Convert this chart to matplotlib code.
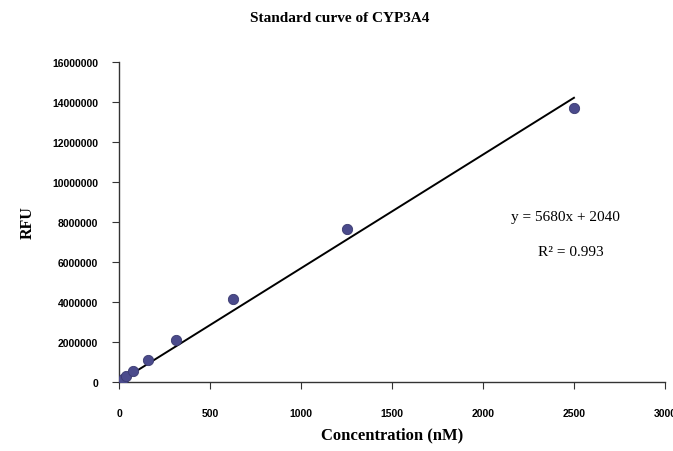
import matplotlib
matplotlib.use("Agg")
import matplotlib.pyplot as plt
import numpy as np

# standard curve readings (two-fold dilution series)
conc_nm = [0, 9.8, 19.5, 39, 78, 156.25, 312.5, 625, 1250, 2500]
rfu = [0, 50000, 120000, 300000, 550000, 1100000, 2100000, 4150000, 7650000, 13700000]
slope = 5680
intercept = 2040
r_squared = 0.993
x_ticks = [0, 500, 1000, 1500, 2000, 2500, 3000]
y_ticks = [0, 2000000, 4000000, 6000000, 8000000, 10000000, 12000000, 14000000, 16000000]

serif = "Liberation Serif"
sans = "Liberation Sans"

fig = plt.figure(figsize=(6.73, 4.52), dpi=100)
ax = fig.add_axes([0.177, 0.153, 0.811, 0.708])

ax.scatter(conc_nm, rfu, s=55, color="#4b4b8c", edgecolor="#3a3a70", linewidth=0.6, zorder=3)

fit_x = np.array([0, max(conc_nm)])
ax.plot(fit_x, slope * fit_x + intercept, color="black", linewidth=1.4, zorder=2)

ax.set_xlim(0, 3000)
ax.set_ylim(0, 16000000)
ax.set_xticks(x_ticks)
ax.set_yticks(y_ticks)
ax.set_xticklabels([str(t) for t in x_ticks], fontfamily=sans, fontweight="bold", fontsize=7.5)
ax.set_yticklabels([str(t) for t in y_ticks], fontfamily=sans, fontweight="bold", fontsize=7.5)
ax.tick_params(axis="x", direction="out", length=5, pad=14, color="#333333")
ax.tick_params(axis="y", direction="out", length=5, pad=10, color="#333333")

for side in ("top", "right"):
    ax.spines[side].set_visible(False)
for side in ("left", "bottom"):
    ax.spines[side].set_color("#333333")
    ax.spines[side].set_linewidth(1.0)

ax.set_xlabel("Concentration (nM)", fontfamily=serif, fontweight="bold", fontsize=12, labelpad=6)
ax.set_ylabel("RFU", fontfamily=serif, fontweight="bold", fontsize=11.5, labelpad=12)

ax.text(0.817, 0.516, f"y = {slope}x + {intercept}", transform=ax.transAxes,
        ha="center", va="center", fontfamily=serif, fontsize=11)
ax.text(0.827, 0.406, f"R\u00b2 = {r_squared}", transform=ax.transAxes,
        ha="center", va="center", fontfamily=serif, fontsize=11)

fig.text(0.505, 0.96, "Standard curve of CYP3A4", ha="center", va="center",
         fontfamily=serif, fontweight="bold", fontsize=11)

fig.savefig("out.png", dpi=100)
